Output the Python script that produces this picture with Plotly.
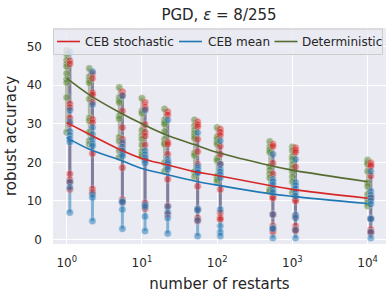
import plotly.graph_objects as go

restarts = [1, 2, 5, 10, 20, 50, 100, 500, 1000, 10000]
tick_vals = [1, 10, 100, 1000, 10000]
tick_text = ["10<sup>0</sup>", "10<sup>1</sup>", "10<sup>2</sup>", "10<sup>3</sup>", "10<sup>4</sup>"]
y_ticks = [0, 10, 20, 30, 40, 50]

# individual runs (robust accuracy, %) per number of restarts
det_runs = [
    [49.0, 48.0, 46.5, 45.5, 44.8, 43.0, 41.5, 40.7, 36.8, 27.8],
    [44.3, 42.2, 41.2, 40.6, 36.4, 31.5, 30.8, 27.8, 25.6, 24.7],
    [39.4, 36.8, 36.0, 35.5, 32.0, 31.3, 26.5, 25.5, 23.0, 21.3],
    [36.6, 33.3, 32.7, 28.3, 27.0, 26.0, 24.5, 22.9, 22.0, 21.5],
    [33.8, 31.0, 30.3, 29.9, 28.0, 26.0, 25.0, 24.7, 19.9, 17.7],
    [31.0, 29.5, 28.3, 27.5, 26.8, 26.2, 22.4, 21.8, 17.6, 16.3],
    [29.0, 26.6, 26.0, 25.2, 24.7, 21.0, 20.5, 16.5, 15.6, 15.1],
    [25.4, 24.0, 23.2, 22.6, 19.0, 18.0, 17.0, 16.0, 13.0, 12.5],
    [24.0, 23.0, 21.5, 20.8, 19.5, 18.5, 17.5, 16.2, 15.0, 12.2],
    [20.6, 20.0, 19.5, 17.7, 14.7, 13.8, 11.7, 10.5, 9.5, 8.7],
]
ceb_stoch_runs = [
    [46.3, 45.5, 35.2, 34.2, 31.5, 30.0, 17.0, 15.5, 14.8, 13.0],
    [43.0, 41.8, 38.0, 37.5, 35.6, 31.2, 30.3, 22.3, 13.1, 12.2],
    [38.3, 37.4, 33.3, 29.0, 26.0, 24.7, 22.9, 18.6, 10.4, 9.6],
    [35.5, 34.3, 33.8, 29.8, 27.8, 26.8, 24.5, 20.8, 9.5, 8.0],
    [33.1, 32.3, 25.2, 24.7, 22.1, 19.9, 19.0, 15.6, 8.7, 6.5],
    [30.5, 29.8, 29.2, 26.0, 22.8, 19.5, 13.8, 7.8, 5.6, 4.8],
    [28.6, 27.8, 27.0, 24.2, 22.1, 19.5, 13.0, 6.9, 5.6, 5.2],
    [24.7, 24.2, 19.8, 17.0, 11.0, 10.8, 6.5, 3.5, 2.6, 2.0],
    [23.8, 23.2, 22.6, 18.8, 10.4, 10.0, 6.0, 3.5, 2.6, 2.2],
    [19.9, 19.4, 19.0, 16.5, 11.0, 10.7, 5.4, 2.6, 2.0, 1.7],
]
ceb_mean_runs = [
    [48.6, 33.5, 30.5, 28.0, 27.0, 26.0, 25.3, 14.9, 13.5, 7.0],
    [43.5, 35.0, 29.0, 27.3, 26.0, 24.8, 24.2, 11.7, 10.9, 4.8],
    [37.2, 25.2, 24.0, 23.0, 22.1, 21.6, 10.0, 9.7, 7.8, 2.8],
    [33.5, 23.0, 22.0, 21.2, 20.5, 19.8, 9.0, 8.5, 6.0, 2.2],
    [31.0, 20.8, 20.0, 19.5, 18.8, 18.2, 8.5, 7.0, 5.6, 1.6],
    [27.7, 19.0, 18.5, 18.0, 17.5, 17.3, 8.0, 7.6, 5.0, 0.9],
    [25.6, 19.5, 18.2, 17.5, 16.8, 16.0, 7.8, 3.5, 2.0, 0.9],
    [22.1, 15.6, 15.0, 14.2, 13.0, 12.2, 6.5, 3.0, 2.8, 0.4],
    [20.8, 14.8, 14.0, 13.2, 12.2, 11.3, 6.4, 5.6, 2.5, 0.4],
    [17.7, 12.5, 11.5, 10.8, 10.0, 9.2, 5.5, 5.3, 2.0, 0.4],
]

# expected robust accuracy curves
det_curve = [41.8, 37.5, 33.0, 30.0, 27.3, 24.6, 22.6, 19.2, 18.0, 15.0]
ceb_stoch_curve = [30.3, 27.3, 23.4, 21.0, 19.5, 17.6, 16.6, 14.0, 13.0, 10.7]
ceb_mean_curve = [26.4, 23.4, 20.7, 18.4, 17.0, 15.2, 14.1, 11.9, 11.2, 9.35]

series_names = ["CEB stochastic", "CEB mean", "Deterministic"]

RED = "#d62728"
BLUE = "#1f77b4"
GREEN = "#556b2f"
CEB_SHIFT = 1.1  # CEB runs drawn slightly to the right of each restart count

W, H = 392, 296
L, R, T, B = 53, 6, 28, 52
PW, PH = W - L - R, H - T - B

fig = go.Figure()


def range_lines(runs, shift, color, opacity):
    xs, ys = [], []
    for n, vals in zip(restarts, runs):
        xs += [n * shift, n * shift, None]
        ys += [min(vals), max(vals), None]
    fig.add_trace(go.Scatter(x=xs, y=ys, mode="lines", showlegend=False,
                             line=dict(color=color, width=3), opacity=opacity,
                             hoverinfo="skip"))


def run_points(runs, shift, color, opacity):
    xs, ys = [], []
    for n, vals in zip(restarts, runs):
        xs += [n * shift] * len(vals)
        ys += list(vals)
    fig.add_trace(go.Scatter(x=xs, y=ys, mode="markers", showlegend=False,
                             marker=dict(color=color, size=7.5, opacity=opacity,
                                         line=dict(color="white", width=0.5))))


range_lines(ceb_stoch_runs, CEB_SHIFT, RED, 0.5)
range_lines(ceb_mean_runs, CEB_SHIFT, BLUE, 0.5)
range_lines(det_runs, 1.0, GREEN, 0.4)
run_points(det_runs, 1.0, "#5f8a3a", 0.55)
run_points(ceb_stoch_runs, CEB_SHIFT, RED, 0.5)
run_points(ceb_mean_runs, CEB_SHIFT, BLUE, 0.5)

colors = [RED, BLUE, GREEN]
for name, curve, color in zip(series_names,
                              [ceb_stoch_curve, ceb_mean_curve, det_curve], colors):
    fig.add_trace(go.Scatter(x=restarts, y=curve, mode="lines", name=name, showlegend=False,
                             line=dict(color=color, width=1.6, shape="spline")))

TXT = "#262626"


def px(xp):
    return (xp - L) / PW


def py(yp):
    return (H - B - yp) / PH


# legend drawn as a framed box inside the plot (matplotlib-style)
shapes = [dict(type="rect", xref="paper", yref="paper",
               x0=px(53.5), x1=px(382.5), y0=py(54.5), y1=py(29),
               line=dict(color="#CCCCCC", width=1), fillcolor="rgba(234,234,242,0.8)",
               layer="above")]
annotations = []
leg_line_x = [57, 179, 274.5]
leg_text_x = [82.5, 205.5, 300]
leg_y = 41.5
for name, color, lx, tx in zip(series_names, colors, leg_line_x, leg_text_x):
    shapes.append(dict(type="line", xref="paper", yref="paper",
                       x0=px(lx), x1=px(lx + 23), y0=py(leg_y), y1=py(leg_y),
                       line=dict(color=color, width=1.6), layer="above"))
    annotations.append(dict(text=name, xref="paper", yref="paper", x=px(tx), y=py(leg_y),
                            xanchor="left", yanchor="middle", showarrow=False,
                            font=dict(size=12, color=TXT)))

fig.update_layout(
    width=W, height=H,
    margin=dict(l=L, r=R, t=T, b=B),
    paper_bgcolor="white", plot_bgcolor="#EAEAF2",
    font=dict(family="DejaVu Sans", size=12, color=TXT),
    title=dict(text="PGD, <i>ε</i> = 8/255", x=(219) / W, xanchor="center",
               y=1 - 15 / H, yanchor="middle", font=dict(size=15, color=TXT)),
    showlegend=False,
    hovermode=False,
    shapes=shapes,
    annotations=annotations,
)
fig.update_xaxes(type="log", range=[-0.182, 4.244], tickvals=tick_vals, ticktext=tick_text,
                 showgrid=True, gridcolor="white", gridwidth=1, zeroline=False,
                 showline=False, ticks="", ticklabelstandoff=10,
                 title=dict(text="number of restarts", font=dict(size=15, color=TXT), standoff=9))
fig.update_yaxes(range=[-1.14, 54.8], tickvals=y_ticks,
                 showgrid=True, gridcolor="white", gridwidth=1, zeroline=False,
                 showline=False, ticks="", ticklabelstandoff=10,
                 title=dict(text="robust accuracy", font=dict(size=15, color=TXT), standoff=6))

fig.write_html("out.html", config={"displayModeBar": False},
               post_script="document.body.style.margin='0';")
